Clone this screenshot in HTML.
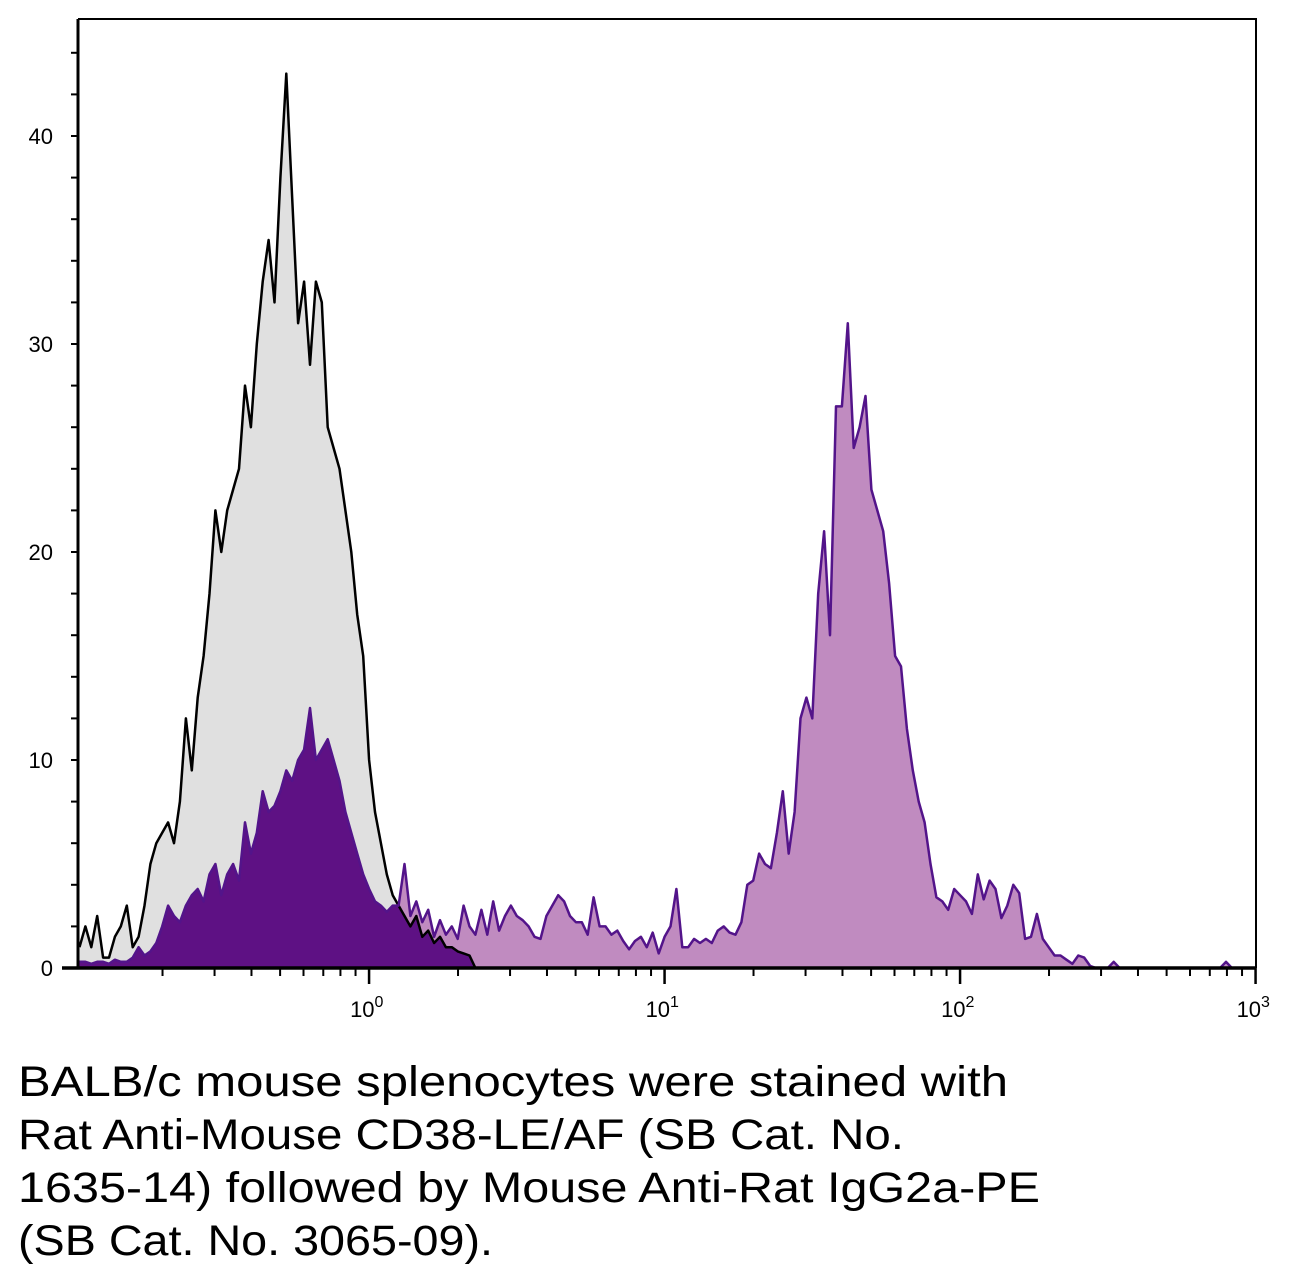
<!DOCTYPE html>
<html><head><meta charset="utf-8"><style>
html,body{margin:0;padding:0;background:#fff;}
svg{display:block;}
</style></head><body>
<svg id="chart" width="1290" height="1282" viewBox="0 0 1290 1282" xmlns="http://www.w3.org/2000/svg">
<g id="plot"></g>
<g id="caption" font-family="'Liberation Sans', sans-serif" font-size="43" fill="#000">
<text x="18" y="1096" textLength="990" lengthAdjust="spacingAndGlyphs">BALB/c mouse splenocytes were stained with</text>
<text x="18" y="1149" textLength="886" lengthAdjust="spacingAndGlyphs">Rat Anti-Mouse CD38-LE/AF (SB Cat. No.</text>
<text x="18" y="1202" textLength="1022" lengthAdjust="spacingAndGlyphs">1635-14) followed by Mouse Anti-Rat IgG2a-PE</text>
<text x="18" y="1255" textLength="475" lengthAdjust="spacingAndGlyphs">(SB Cat. No. 3065-09).</text>
</g>
</svg>
<script>
// log10 bin start and width
var binStartLog = -0.98;
var binStepLog = 0.02;
var controlCounts = [1,2,1,2.5,0.5,0.5,1.5,2,3,1,1.5,3,5,6,6.5,7,6,8,12,9.5,13,15,18,22,20,22,23,24,28,26,30,33,35,32,38,43,37,31,33,29,33,32,26,25,24,22,20,17,15,10,7.5,6,4.5,3.5,3,2.5,2,2.5,1.5,1.8,1.2,1.5,1,1,0.8,0.7,0.6,0,0,0,0,0,0,0,0,0,0,0,0,0,0,0,0,0,
0,0,0,0,0,0,0,0,0,0,0,0,0,0,0,0,0,0,0,0,0,0,0,
0,0,0,0,0,0,0,0,0,0,0,0,0,0,0,0,0,0,0,0,0,0,0,0,0,0,0,0,0,0,0,0,0,0,0,0,0,0,0,0,0,0,0,0,0,0,0,0,0,0,0,0,0,0,0,0,0,0,0,0,0,0,0,0,0,0,0,0,0,0,0,0,0,0,0,0,0,0,0,0,0,0,0,0,0,0,0,0,0,0,0,0,0];
var stainedCounts = [0.3,0.3,0.2,0.3,0.3,0.2,0.4,0.3,0.3,0.5,1,0.6,0.8,1.2,2,3,2.5,2.2,3,3.5,3.8,3.2,4.5,5,3.5,4.5,5,4.2,7,5.5,6.5,8.5,7.5,7.8,8.5,9.5,9,10,10.5,12.5,10,10.5,11,10,9,7.5,6.5,5.5,4.5,3.8,3.2,3,2.7,3,3,5,2.5,3.2,2.2,2.8,1.5,2.3,1.6,2,1.4,3,2,1.6,2.8,1.6,3.2,1.8,2.5,3,2.5,2.3,2,1.5,1.4,2.5,3,3.5,3.2,2.5,2.2,2.2,1.6,3.4,2,2,1.6,1.8,1.3,0.9,1.3,1.5,1,1.7,0.7,1.5,2,3.8,1,1,1.4,1.2,1.4,1.2,1.8,2,1.7,1.6,2.2,4,4.2,5.5,5,4.8,6.5,8.5,5.5,7.5,12,13,12,18,21,16,27,27,31,25,26,27.5,23,22,21,18.5,15,14.5,11.5,9.5,8,7,5,3.4,3.2,2.8,3.8,3.5,3.2,2.6,4.5,3.3,4.2,3.8,2.4,3,4,3.6,1.4,1.5,2.6,1.4,1,0.6,0.6,0.4,0.2,0.6,0.5,0.1,0,0,0,0.3,0,0,0,0,0,0,0,0,0,0,0,0,0,0,0,0,0,0,0.3,0,0,0,0];
var yTickLabels = ["0","10","20","30","40"];
var yTickValues = [0,10,20,30,40];
var xDecades = [0,1,2,3];

var NS = "http://www.w3.org/2000/svg";
var plot = document.getElementById('plot');
var X0 = 78, X1 = 1256, Y0 = 968, Y1 = 19;
var logMin = -0.985, pxPerDecade = 295.5;
var pxPerUnit = 20.8;
function xs(lg){ return X0 + (lg - logMin) * pxPerDecade; }
function ys(v){ return Y0 - v * pxPerUnit; }
function mk(tag, attrs){ var e = document.createElementNS(NS, tag); for (var k in attrs) e.setAttribute(k, attrs[k]); plot.appendChild(e); return e; }

function pts(arr){
  var s = [];
  for (var i = 0; i < arr.length; i++){
    var x = xs(binStartLog + binStepLog * i);
    if (x > X1) x = X1;
    s.push(x.toFixed(1) + "," + ys(arr[i]).toFixed(1));
  }
  return s;
}
function area(arr){
  var p = pts(arr);
  var first = p[0].split(",")[0], last = p[p.length-1].split(",")[0];
  return "M" + first + "," + Y0 + " L" + p.join(" L") + " L" + last + "," + Y0 + " Z";
}
var overlap = [];
for (var i = 0; i < controlCounts.length; i++) overlap.push(Math.min(controlCounts[i], stainedCounts[i]));

var e;
e = mk('path', {d: area(controlCounts), fill: '#e0e0e0', stroke: 'none'});


e = mk('path', {d: area(stainedCounts), fill: '#c08bc0', stroke: 'none'});


e = mk('path', {d: area(overlap), fill: '#5e1184', stroke: 'none'});


e = mk('polyline', {points: pts(controlCounts).join(" "), fill: 'none', stroke: '#000', 'stroke-width': 2.5, 'stroke-linejoin': 'round'});


e = mk('polyline', {points: pts(stainedCounts).join(" "), fill: 'none', stroke: '#53148a', 'stroke-width': 2.5, 'stroke-linejoin': 'round'});



// frame
e = mk('path', {d: 'M' + X0 + ',' + Y1 + ' H' + X1 + ' V' + Y0, fill: 'none', stroke: '#000', 'stroke-width': 2});


e = mk('line', {x1: X0, y1: Y1, x2: X0, y2: Y0 + 1, stroke: '#000', 'stroke-width': 3});


e = mk('line', {x1: 62, y1: Y0, x2: X1, y2: Y0, stroke: '#000', 'stroke-width': 3.5});



// y ticks
for (var v = 0; v <= 44; v += 2){
  e = mk('line', {x1: 71, y1: ys(v), x2: X0, y2: ys(v), stroke: '#000', 'stroke-width': 2});
  
  
}
for (var j = 0; j < yTickValues.length; j++){
  e = mk('text', {x: 53, y: ys(yTickValues[j]) + 8, 'text-anchor': 'end', 'font-family': "'Liberation Sans', sans-serif", 'font-size': 22});
  e.textContent = yTickLabels[j];
  
  
}
// x ticks
for (var d = -1; d < 3; d++){
  for (var m = 2; m <= 9; m++){
    var lx = xs(d + Math.log10(m));
    if (lx < X0) continue;
    e = mk('line', {x1: lx, y1: Y0, x2: lx, y2: Y0 + 8, stroke: '#000', 'stroke-width': 2});
    
    
  }
}
for (var k = 0; k < xDecades.length; k++){
  var mx = xs(xDecades[k]);
  e = mk('line', {x1: mx, y1: Y0, x2: mx, y2: Y0 + 16, stroke: '#000', 'stroke-width': 2.5});
  
  
  var t = mk('text', {x: mx - 19, y: 1017, 'font-family': "'Liberation Sans', sans-serif", 'font-size': 22});
  
  
  t.textContent = "10";
  var sup = document.createElementNS(NS, 'tspan');
  sup.setAttribute('dy', '-10');
  sup.setAttribute('font-size', '16');
  sup.textContent = String(xDecades[k]);
  t.appendChild(sup);
}
</script>
</body></html>
